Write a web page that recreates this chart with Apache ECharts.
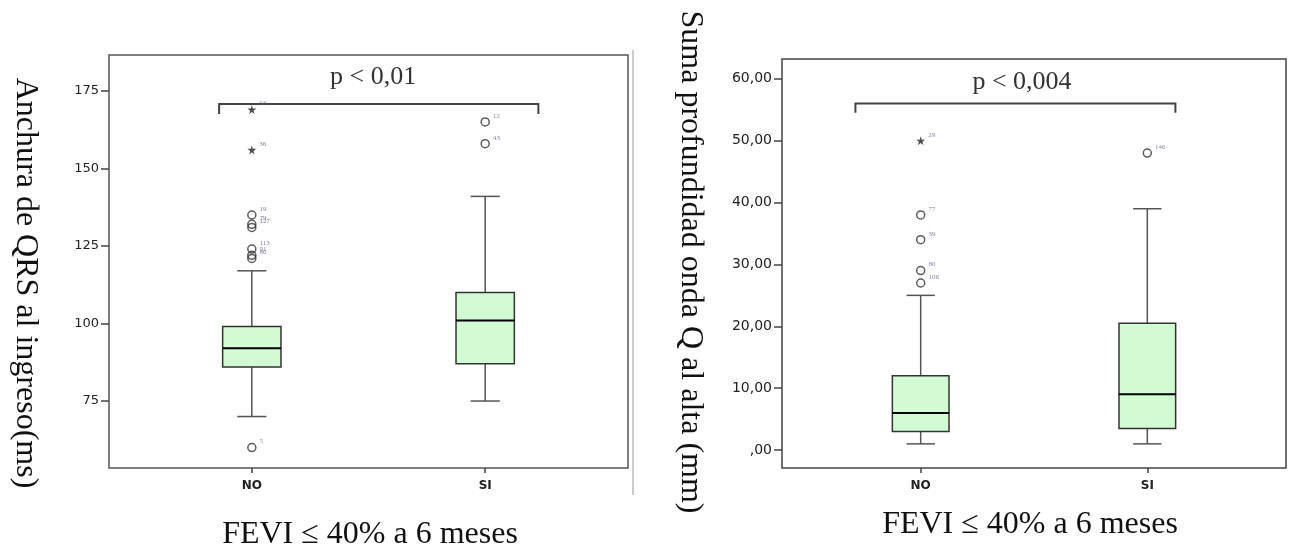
<!DOCTYPE html>
<html>
<head>
<meta charset="utf-8">
<script src="https://cdn.jsdelivr.net/npm/echarts@6/dist/echarts.min.js"></script>
<style>
  html, body { margin: 0; padding: 0; background: #fff; }
  #main { width: 1290px; height: 551px; }
</style>
</head>
<body>
<div id="main"></div>
<script>
var cats = ['NO', 'SI'];

// left: QRS width (ms)  [x, min, q1, median, q3, max]
var qrsBox = [[0, 70, 86, 92, 99, 117], [1, 75, 87, 101, 110, 141]];
var qrsCircles = [[0, 135, '19'], [0, 132, '79'], [0, 131, '127'], [0, 124, '113'], [0, 122, '91'], [0, 121, '80'], [0, 60, '5'], [1, 165, '12'], [1, 158, '43']];
var qrsStars = [[0, 169, '53'], [0, 156, '36']];
var qrsTicks = [75, 100, 125, 150, 175];
// bracket: [x1, x2, yLine, yEnd], text at [x, y]
var qrsBracket = [[-0.14, 1.228, 170.8, 167.6]];
var qrsP = [[0.52, 179.5, 'p < 0,01']];

// right: Q wave depth (mm)
var qBox = [[0, 1, 3, 6, 12, 25], [1, 1, 3.5, 9, 20.5, 39]];
var qCircles = [[0, 38, '77'], [0, 34, '39'], [0, 29, '80'], [0, 27, '106'], [1, 48, '146']];
var qStars = [[0, 50, '29']];
var qTicks = [0, 10, 20, 30, 40, 50, 60];
var qBracket = [[-0.288, 1.124, 56.0, 54.5]];
var qP = [[0.447, 59.4, 'p < 0,004']];

var starPath = 'path://M50,0 L61,35 L98,35 L68,57 L79,91 L50,70 L21,91 L32,57 L2,35 L39,35 Z';
var serif = '"Liberation Serif", "DejaVu Serif", serif';
var sans = '"DejaVu Sans", sans-serif';

function renderBox(params, api) {
    var x = api.value(0);
    var cx = api.coord([x, 0])[0];
    var l = api.coord([x - 0.125, 0])[0];
    var r = api.coord([x + 0.125, 0])[0];
    var cl = api.coord([x - 0.0625, 0])[0];
    var cr = api.coord([x + 0.0625, 0])[0];
    var yMin = api.coord([x, api.value(1)])[1];
    var yQ1 = api.coord([x, api.value(2)])[1];
    var yMed = api.coord([x, api.value(3)])[1];
    var yQ3 = api.coord([x, api.value(4)])[1];
    var yMax = api.coord([x, api.value(5)])[1];
    var ws = { stroke: '#555', lineWidth: 1.5 };
    return {
        type: 'group',
        children: [
            { type: 'line', shape: { x1: cx, y1: yMax, x2: cx, y2: yQ3 }, style: ws },
            { type: 'line', shape: { x1: cx, y1: yQ1, x2: cx, y2: yMin }, style: ws },
            { type: 'line', shape: { x1: cl, y1: yMax, x2: cr, y2: yMax }, style: ws },
            { type: 'line', shape: { x1: cl, y1: yMin, x2: cr, y2: yMin }, style: ws },
            { type: 'rect', shape: { x: l, y: yQ3, width: r - l, height: yQ1 - yQ3 },
              style: { fill: '#d3fbd3', stroke: '#333', lineWidth: 1.5 } },
            { type: 'line', shape: { x1: l, y1: yMed, x2: r, y2: yMed }, style: { stroke: '#000', lineWidth: 2 } }
        ]
    };
}

function renderBracket(params, api) {
    var a = api.coord([api.value(0), api.value(2)]);
    var b = api.coord([api.value(1), api.value(2)]);
    var yEnd = api.coord([0, api.value(3)])[1];
    return {
        type: 'polyline',
        shape: { points: [[a[0], yEnd], a, b, [b[0], yEnd]] },
        style: { stroke: '#444', lineWidth: 2, fill: null }
    };
}

function renderP(params, api) {
    var p = api.coord([api.value(0), api.value(1)]);
    return {
        type: 'text',
        x: p[0], y: p[1],
        style: { text: api.value(2), fill: '#333', font: '26px ' + serif, align: 'center', verticalAlign: 'middle' }
    };
}

function xAxisFor(gi) {
    return {
        type: 'value', gridIndex: gi, min: -0.612, max: 1.612,
        axisLine: { show: false, onZero: false },
        splitLine: { show: false },
        axisTick: { show: true, length: 5, customValues: [0, 1], lineStyle: { color: '#444', width: 1.5 } },
        axisLabel: {
            customValues: [0, 1], margin: 12,
            formatter: function (v) { return cats[Math.round(v)]; },
            color: '#222', fontFamily: sans, fontSize: 12, fontWeight: 'bold'
        }
    };
}

function yAxisFor(gi, min, max, ticks, fmt, fs) {
    return {
        type: 'value', gridIndex: gi, min: min, max: max,
        axisLine: { show: false, onZero: false },
        splitLine: { show: false },
        axisTick: { show: true, length: 8, customValues: ticks, lineStyle: { color: '#444', width: 1.5 } },
        axisLabel: { customValues: ticks, margin: 10, formatter: fmt, color: '#222', fontFamily: sans, fontSize: fs }
    };
}

function outlierSeries(data, gi, star) {
    return {
        type: 'scatter', xAxisIndex: gi, yAxisIndex: gi, data: data,
        symbol: star ? starPath : 'circle',
        symbolSize: star ? 9 : 8,
        itemStyle: star ? { color: '#222' } : { color: 'rgba(0,0,0,0)', borderColor: '#333', borderWidth: 1.5 },
        label: {
            show: true, position: 'right', offset: [-2, -6],
            formatter: function (p) { return p.value[2]; },
            fontSize: 7, color: '#6a5d8c', fontFamily: serif
        },
        z: 5
    };
}

var chart = echarts.init(document.getElementById('main'));
chart.setOption({
    backgroundColor: '#fff',
    animation: false,
    grid: [
        { left: 109, top: 55, width: 519, height: 413, show: true, borderColor: '#555', borderWidth: 1.5, backgroundColor: '#fff' },
        { left: 782, top: 59, width: 504, height: 409, show: true, borderColor: '#444', borderWidth: 1.5, backgroundColor: '#fff' }
    ],
    xAxis: [xAxisFor(0), xAxisFor(1)],
    yAxis: [
        yAxisFor(0, 53.4, 186.6, qrsTicks, function (v) { return String(v); }, 13),
        yAxisFor(1, -2.9, 63.2, qTicks, function (v) { return v === 0 ? ',00' : v.toFixed(2).replace('.', ','); }, 14)
    ],
    graphic: [
        { type: 'line', shape: { x1: 633, y1: 50, x2: 633, y2: 495 }, style: { stroke: '#bbb', lineWidth: 1.5 } },
        { type: 'text', x: 25, y: 283, rotation: -Math.PI / 2,
          style: { text: 'Anchura de QRS al ingreso(ms)', font: '32px ' + serif, fill: '#111', align: 'center', verticalAlign: 'middle' } },
        { type: 'text', x: 690, y: 262, rotation: -Math.PI / 2,
          style: { text: 'Suma profundidad onda Q al alta (mm)', font: '32px ' + serif, fill: '#111', align: 'center', verticalAlign: 'middle' } },
        { type: 'text', x: 370, y: 535,
          style: { text: 'FEVI ≤ 40% a 6 meses', font: '32px ' + serif, fill: '#111', align: 'center', verticalAlign: 'middle' } },
        { type: 'text', x: 1030, y: 525,
          style: { text: 'FEVI ≤ 40% a 6 meses', font: '32px ' + serif, fill: '#111', align: 'center', verticalAlign: 'middle' } }
    ],
    series: [
        { type: 'custom', xAxisIndex: 0, yAxisIndex: 0, data: qrsBox, renderItem: renderBox },
        { type: 'custom', xAxisIndex: 1, yAxisIndex: 1, data: qBox, renderItem: renderBox },
        outlierSeries(qrsCircles, 0, false),
        outlierSeries(qrsStars, 0, true),
        outlierSeries(qCircles, 1, false),
        outlierSeries(qStars, 1, true),
        { type: 'custom', xAxisIndex: 0, yAxisIndex: 0, data: qrsBracket, renderItem: renderBracket },
        { type: 'custom', xAxisIndex: 1, yAxisIndex: 1, data: qBracket, renderItem: renderBracket },
        { type: 'custom', xAxisIndex: 0, yAxisIndex: 0, data: qrsP, renderItem: renderP },
        { type: 'custom', xAxisIndex: 1, yAxisIndex: 1, data: qP, renderItem: renderP }
    ]
});
</script>
</body>
</html>
